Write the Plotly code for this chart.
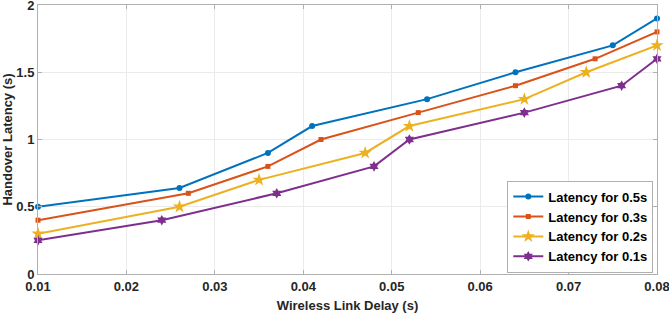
import plotly.graph_objects as go

x_05 = [0.01, 0.026, 0.036, 0.041, 0.054, 0.064, 0.075, 0.08]
y_05 = [0.5, 0.64, 0.9, 1.1, 1.3, 1.5, 1.7, 1.9]
x_03 = [0.01, 0.027, 0.036, 0.042, 0.053, 0.064, 0.073, 0.08]
y_03 = [0.4, 0.6, 0.8, 1.0, 1.2, 1.4, 1.6, 1.8]
x_02 = [0.01, 0.026, 0.035, 0.047, 0.052, 0.065, 0.072, 0.08]
y_02 = [0.3, 0.5, 0.7, 0.9, 1.1, 1.3, 1.5, 1.7]
x_01 = [0.01, 0.024, 0.037, 0.048, 0.052, 0.065, 0.076, 0.08]
y_01 = [0.25, 0.4, 0.6, 0.8, 1.0, 1.2, 1.4, 1.6]

series = [
    ("Latency for 0.5s", x_05, y_05, "#0072BD", "circle", 6),
    ("Latency for 0.3s", x_03, y_03, "#D95319", "square", 5),
    ("Latency for 0.2s", x_02, y_02, "#EDB120", "star", 10),
    ("Latency for 0.1s", x_01, y_01, "#7E2F8E", "hexagram", 8),
]

fig = go.Figure()
for name, xs, ys, c, sym, sz in series:
    fig.add_trace(go.Scatter(
        x=xs, y=ys, name=name, mode="lines+markers",
        line=dict(color=c, width=2),
        marker=dict(symbol=sym, size=sz, color=c),
        cliponaxis=False,
    ))

font_family = "Liberation Sans, Arial, sans-serif"
axis_common = dict(
    showline=True, linecolor="#B0B0B0", linewidth=1, mirror="ticks",
    ticks="inside", ticklen=4, tickcolor="#B0B0B0",
    showgrid=True, gridcolor="#EBEBEB", gridwidth=1, zeroline=False,
    ticklabeloverflow="allow",
    tickfont=dict(family=font_family, size=13, color="#262626", weight="bold"),
)

fig.update_layout(
    width=669, height=313,
    margin=dict(l=38, r=12, t=5, b=39, autoexpand=False),
    paper_bgcolor="white", plot_bgcolor="white",
    showlegend=True,
    legend=dict(
        x=0.994, y=0.005, xanchor="right", yanchor="bottom",
        bgcolor="white", bordercolor="#B0B0B0", borderwidth=1,
        font=dict(family=font_family, size=13, color="#000000", weight="bold"),
        tracegroupgap=0, itemwidth=30,
    ),
    xaxis=dict(
        range=[0.01, 0.0800001], tickmode="array",
        tickvals=[0.01, 0.02, 0.03, 0.04, 0.05, 0.06, 0.07, 0.08],
        ticktext=["0.01", "0.02", "0.03", "0.04", "0.05", "0.06", "0.07", "0.08"],
        title=dict(text="Wireless Link Delay (s)", standoff=8,
                   font=dict(family=font_family, size=13, color="#262626", weight="bold")),
        **axis_common,
    ),
    yaxis=dict(
        range=[0, 2.00001], tickmode="array",
        tickvals=[0, 0.5, 1, 1.5, 2],
        ticktext=["0", "0.5", "1", "1.5", "2"],
        title=dict(text="Handover Latency (s)", standoff=2,
                   font=dict(family=font_family, size=13, color="#262626", weight="bold")),
        **axis_common,
    ),
)

fig.write_html("out.html", config={"displayModeBar": False},
               post_script="document.body.style.margin='0px';")
